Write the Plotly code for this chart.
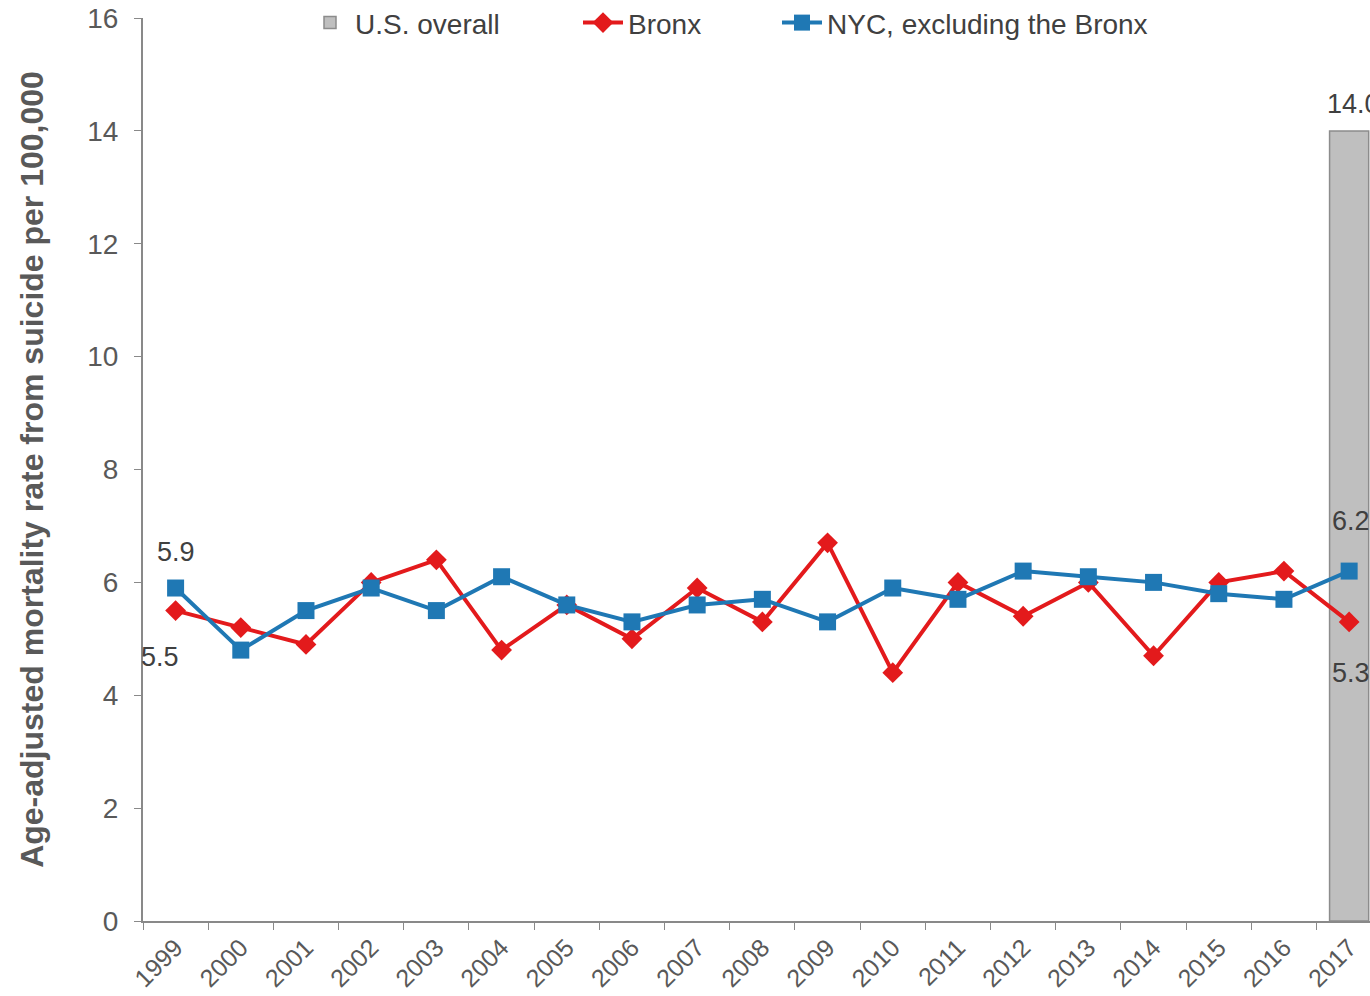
import plotly.graph_objects as go

years = [str(y) for y in range(1999, 2018)]
bronx = [5.5, 5.2, 4.9, 6.0, 6.4, 4.8, 5.6, 5.0, 5.9, 5.3, 6.7, 4.4, 6.0, 5.4, 6.0, 4.7, 6.0, 6.2, 5.3]
nyc_ex_bronx = [5.9, 4.8, 5.5, 5.9, 5.5, 6.1, 5.6, 5.3, 5.6, 5.7, 5.3, 5.9, 5.7, 6.2, 6.1, 6.0, 5.8, 5.7, 6.2]
us_years = ["2017"]
us_overall = [14.0]

FONT = "Liberation Sans, Arial, sans-serif"
TXT = "#404040"
TICK = "#595959"

fig = go.Figure()
fig.add_trace(go.Bar(
    x=us_years, y=us_overall, name="U.S. overall", legend="legend",
    marker=dict(color="#BFBFBF", line=dict(color="#8C8C8C", width=1.5)),
))
fig.add_trace(go.Scatter(
    x=years, y=bronx, name="Bronx", mode="lines+markers", legend="legend2",
    line=dict(color="#E31A1C", width=4),
    marker=dict(symbol="diamond", size=16, color="#E31A1C"),
))
fig.add_trace(go.Scatter(
    x=years, y=nyc_ex_bronx, name="NYC, excluding the Bronx", mode="lines+markers", legend="legend3",
    line=dict(color="#1F78B4", width=4),
    marker=dict(symbol="square", size=17, color="#1F78B4"),
))

lab_font = dict(size=27, color=TXT, family=FONT)
last = len(years) - 1
fig.add_annotation(x=0, y=nyc_ex_bronx[0], text=f"{nyc_ex_bronx[0]:.1f}", showarrow=False,
                   yshift=36, font=lab_font)
fig.add_annotation(x=0, y=bronx[0], text=f"{bronx[0]:.1f}", showarrow=False,
                   yshift=-46, xshift=-16, font=lab_font)
fig.add_annotation(x=last, y=nyc_ex_bronx[-1], text=f"{nyc_ex_bronx[-1]:.1f}", showarrow=False,
                   yshift=50, xshift=2, font=lab_font)
fig.add_annotation(x=last, y=bronx[-1], text=f"{bronx[-1]:.1f}", showarrow=False,
                   yshift=-51, xshift=2, font=lab_font)
fig.add_annotation(x=last, y=us_overall[0], text=f"{us_overall[0]:.1f}", showarrow=False,
                   yshift=27, xshift=4, font=lab_font)

leg_common = dict(orientation="h", xref="container", yref="container", y=0.977,
                  xanchor="left", yanchor="middle", bgcolor="rgba(0,0,0,0)",
                  font=dict(size=28, color=TXT, family=FONT), itemwidth=40)

fig.update_layout(
    width=1370, height=996,
    margin=dict(l=143, r=0, t=18, b=75, autoexpand=False),
    plot_bgcolor="white", paper_bgcolor="white",
    font=dict(family=FONT, color=TXT),
    bargap=0.4,
    showlegend=True,
    legend=dict(x=305 / 1370, **leg_common),
    legend2=dict(x=578 / 1370, **leg_common),
    legend3=dict(x=777 / 1370, **leg_common),
    xaxis=dict(type="category", categoryorder="array", categoryarray=years,
               range=[-0.5, 18.32], tickson="boundaries", ticks="outside", ticklen=7,
               tickcolor="#898989", showline=True, linecolor="#898989", linewidth=2,
               tickangle=-45, tickfont=dict(size=25, color=TICK, family=FONT),
               showgrid=False, zeroline=False, automargin=False),
    yaxis=dict(range=[0, 16], dtick=2, ticks="outside", ticklen=7, tickcolor="#898989",
               showline=True, linecolor="#898989", linewidth=2, showgrid=False, zeroline=False,
               tickfont=dict(size=28, color=TICK, family=FONT), automargin=False,
               ticklabelstandoff=10,
               title=dict(text="<b>Age-adjusted mortality rate from suicide per 100,000</b>",
                          font=dict(size=32, color=TICK, family=FONT), standoff=34)),
)

fig.write_html("out.html", config={"displayModeBar": False},
               post_script=["document.body.style.margin='0';document.body.style.overflow='hidden';"])
